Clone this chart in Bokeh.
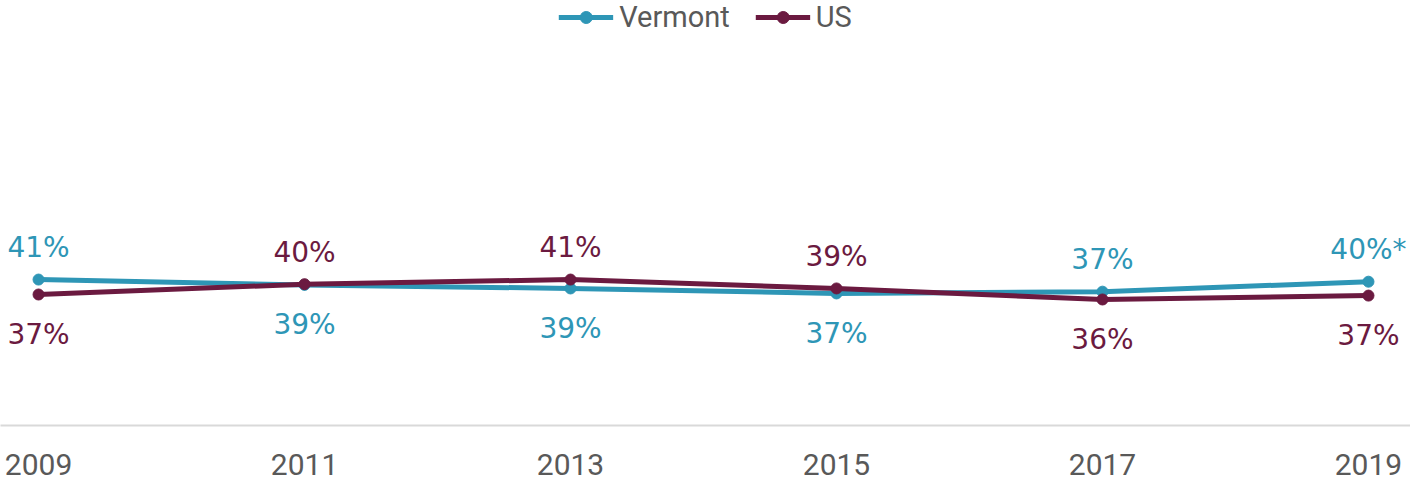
from bokeh.plotting import figure
from bokeh.models import Range1d, FixedTicker, Legend, LegendItem, ColumnDataSource
from bokeh.core.properties import value
from bokeh.embed import file_html
from bokeh.resources import INLINE

years = [2009, 2011, 2013, 2015, 2017, 2019]
tick_labels = ["2009", "2011", "2013", "2015", "2017", "2019"]
vermont = [41.0, 39.5, 38.5, 37.1, 37.6, 40.4]
us = [36.8, 39.7, 41.0, 38.5, 35.4, 36.5]
vermont_labels = ["41%", "39%", "39%", "37%", "37%", "40%*"]
us_labels = ["37%", "40%", "41%", "39%", "36%", "37%"]

VT_COLOR = "#2E96B6"
US_COLOR = "#6B1A40"
GRAY = "#595959"

p = figure(width=1410, height=482, output_backend="svg", toolbar_location=None,
           x_range=Range1d(2008.714, 2019.316), y_range=Range1d(0, 119.4),
           y_axis_location=None, min_border_left=0, min_border_right=0,
           min_border_top=0, min_border_bottom=57)
p.outline_line_color = None
p.xgrid.visible = False
p.ygrid.visible = False
p.background_fill_color = "white"
p.border_fill_color = "white"

ax = p.xaxis[0]
ax.ticker = FixedTicker(ticks=years)
ax.major_label_overrides = {y: t for y, t in zip(years, tick_labels)}
ax.major_tick_line_color = None
ax.minor_tick_line_color = None
ax.axis_line_color = "#D9D9D9"
ax.axis_line_width = 2
ax.major_label_text_font = "Roboto"
ax.major_label_text_font_size = "30px"
ax.major_label_text_color = GRAY
ax.major_label_standoff = 22

r_vt = p.line(years, vermont, line_color=VT_COLOR, line_width=5)
c_vt = p.scatter(years, vermont, size=11, fill_color=VT_COLOR, line_color=VT_COLOR)
r_us = p.line(years, us, line_color=US_COLOR, line_width=5)
c_us = p.scatter(years, us, size=11, fill_color=US_COLOR, line_color=US_COLOR)

# data labels: above the point if the series is higher than the other one
vt_off = [-32 if v > u else 40 for v, u in zip(vermont, us)]
us_off = [-32 if u > v else 40 for v, u in zip(vermont, us)]
src_vt = ColumnDataSource(dict(x=years, y=vermont, t=vermont_labels, off=vt_off))
src_us = ColumnDataSource(dict(x=years, y=us, t=us_labels, off=us_off))
for src, col in ((src_vt, VT_COLOR), (src_us, US_COLOR)):
    p.text(x="x", y="y", text="t", y_offset="off", source=src,
           text_align="center", text_baseline="middle",
           text_font=value("DejaVu Sans"), text_font_size="28px", text_color=col)

legend = Legend(items=[LegendItem(label="Vermont", renderers=[r_vt, c_vt]),
                       LegendItem(label="US", renderers=[r_us, c_us])],
                location="top_center", orientation="horizontal",
                label_text_font="Roboto", label_text_font_size="29px",
                label_text_color=GRAY, glyph_width=55, glyph_height=30,
                label_standoff=6, spacing=25, padding=0, margin=0,
                border_line_alpha=0, background_fill_alpha=0)
p.add_layout(legend)

open("out.html", "w").write(file_html(p, INLINE))
